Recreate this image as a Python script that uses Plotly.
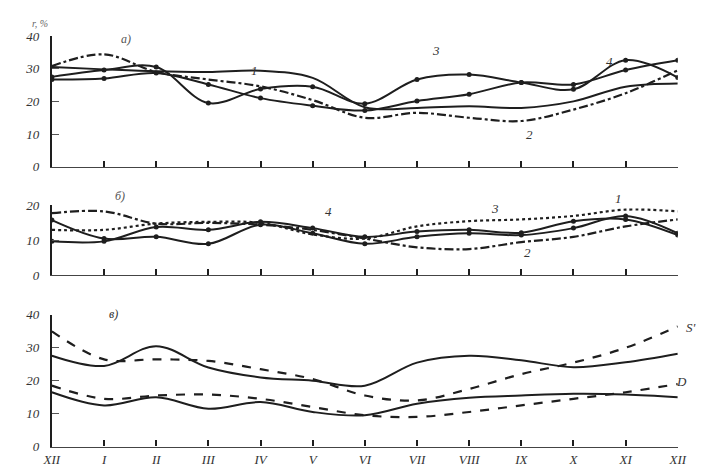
import plotly.graph_objects as go

# ---- data ----
months = ["XII", "I", "II", "III", "IV", "V", "VI", "VII", "VIII", "IX", "X", "XI", "XII"]
x = list(range(13))

# panel a)
a_1 = [30.5, 29.8, 29.2, 29.0, 29.4, 27.2, 18.2, 18.0, 18.5, 18.0, 20.0, 24.5, 25.5]
a_3 = [27.5, 29.6, 30.5, 19.5, 23.8, 24.5, 19.3, 26.7, 28.2, 25.8, 23.7, 32.6, 27.3]
a_4 = [26.7, 27.0, 28.7, 25.2, 21.0, 18.7, 17.2, 20.1, 22.2, 25.8, 25.2, 29.6, 32.6]
a_2 = [30.8, 34.4, 29.0, 26.7, 24.6, 20.4, 15.0, 16.5, 15.0, 14.0, 17.5, 22.5, 29.5]

# panel b)
b_1 = [15.8, 10.5, 11.0, 9.0, 14.5, 12.0, 9.0, 11.0, 12.0, 11.5, 13.5, 17.0, 12.0]
b_2 = [17.8, 18.3, 14.8, 15.0, 14.5, 13.0, 10.5, 8.0, 7.5, 9.5, 11.0, 14.0, 16.0]
b_3 = [13.0, 13.0, 14.8, 15.3, 15.0, 11.7, 10.5, 14.0, 15.5, 16.0, 17.0, 18.8, 18.3]
b_4 = [9.7, 9.7, 13.8, 13.0, 15.3, 13.5, 11.0, 12.5, 13.0, 12.2, 15.5, 16.0, 11.5]

# panel c)
c_s_solid = [27.6, 24.5, 30.5, 24.0, 21.0, 20.0, 18.5, 25.5, 27.6, 26.2, 24.1, 25.6, 28.2]
c_s_dash = [35.0, 26.5, 26.5, 26.0, 23.5, 20.5, 15.5, 14.0, 17.5, 22.0, 25.5, 30.0, 36.5]
c_d_dash = [18.5, 14.5, 15.5, 15.8, 14.5, 12.0, 9.5, 9.0, 10.5, 12.5, 14.5, 16.5, 19.0]
c_d_solid = [16.5, 12.5, 15.0, 11.5, 13.5, 10.5, 9.5, 13.0, 14.8, 15.5, 16.0, 15.8, 15.0]

ink = "#1e1e1e"
fig = go.Figure()


def add(y, axis, dash="solid", marker=False, width=2.0):
    fig.add_trace(go.Scatter(
        x=x, y=y, xaxis="x" + axis, yaxis="y" + axis,
        mode="lines+markers" if marker else "lines",
        line=dict(color=ink, width=width, dash=dash, shape="spline", smoothing=1.0),
        marker=dict(size=5, color=ink),
        showlegend=False, hoverinfo="skip"))


add(a_1, "", "solid")
add(a_3, "", "solid", True)
add(a_4, "", "solid", True)
add(a_2, "", "dashdot", width=2.2)

add(b_1, "2", "solid", True)
add(b_2, "2", "dashdot", width=2.2)
add(b_3, "2", "dot", width=2.2)
add(b_4, "2", "solid", True)

add(c_s_solid, "3", "solid")
add(c_s_dash, "3", "dash", width=2.2)
add(c_d_dash, "3", "dash", width=2.2)
add(c_d_solid, "3", "solid")

W, H = 717, 471
xd = [44 / W, 686 / W]


def yd(top, bot):
    return [1 - bot / H, 1 - top / H]


tickfont = dict(family="Liberation Serif", size=13, color="#333", style="italic")
common_x = dict(range=[0, 12], tickvals=x, showline=True, linecolor="#444", linewidth=1.2,
                ticks="inside", ticklen=6, tickwidth=1.5, tickcolor=ink, showgrid=False,
                zeroline=False, domain=xd, tickfont=tickfont)
common_y = dict(showline=True, linecolor=ink, linewidth=2.2, ticks="inside", ticklen=7,
                tickcolor="#555", showgrid=False, zeroline=False, tickfont=tickfont,
                ticklabelstandoff=8)

fig.update_layout(
    width=W, height=H, margin=dict(l=0, r=0, t=0, b=0),
    paper_bgcolor="white", plot_bgcolor="white",
    xaxis=dict(**common_x, anchor="y", showticklabels=False),
    yaxis=dict(**common_y, anchor="x", domain=yd(30, 165), range=[0, 40], tickvals=[0, 10, 20, 30, 40]),
    xaxis2=dict(**common_x, anchor="y2", showticklabels=False),
    yaxis2=dict(**common_y, anchor="x2", domain=yd(205, 277), range=[0, 20], tickvals=[0, 10, 20]),
    xaxis3=dict(**common_x, anchor="y3", showticklabels=True, ticktext=months, ticklabelstandoff=1),
    yaxis3=dict(**common_y, anchor="x3", domain=yd(318, 454), range=[0, 40], tickvals=[0, 10, 20, 30, 40]),
)


def pa(text, px, py, size=13, color="#333"):
    return dict(text=text, x=px / W, y=1 - py / H, xref="paper", yref="paper",
                showarrow=False, font=dict(family="Liberation Serif", size=size, color=color, style="italic"))


ann = [
    pa("r, %", 22, 9, 10, "#666"),
    pa("а)", 113, 24, 12, "#555"),
    pa("б)", 107, 195, 12, "#555"),
    pa("в)", 101, 326, 12, "#333"),
    pa("1", 252, 56),
    pa("3", 438, 35),
    pa("4", 622, 46),
    pa("2", 540, 122),
    pa("4", 328, 211),
    pa("3", 505, 208),
    pa("2", 538, 254),
    pa("1", 631, 198),
    pa("S'", 707, 341),
    pa("D", 698, 397),
]
fig.update_layout(annotations=ann)

fig.write_html("out.html")
